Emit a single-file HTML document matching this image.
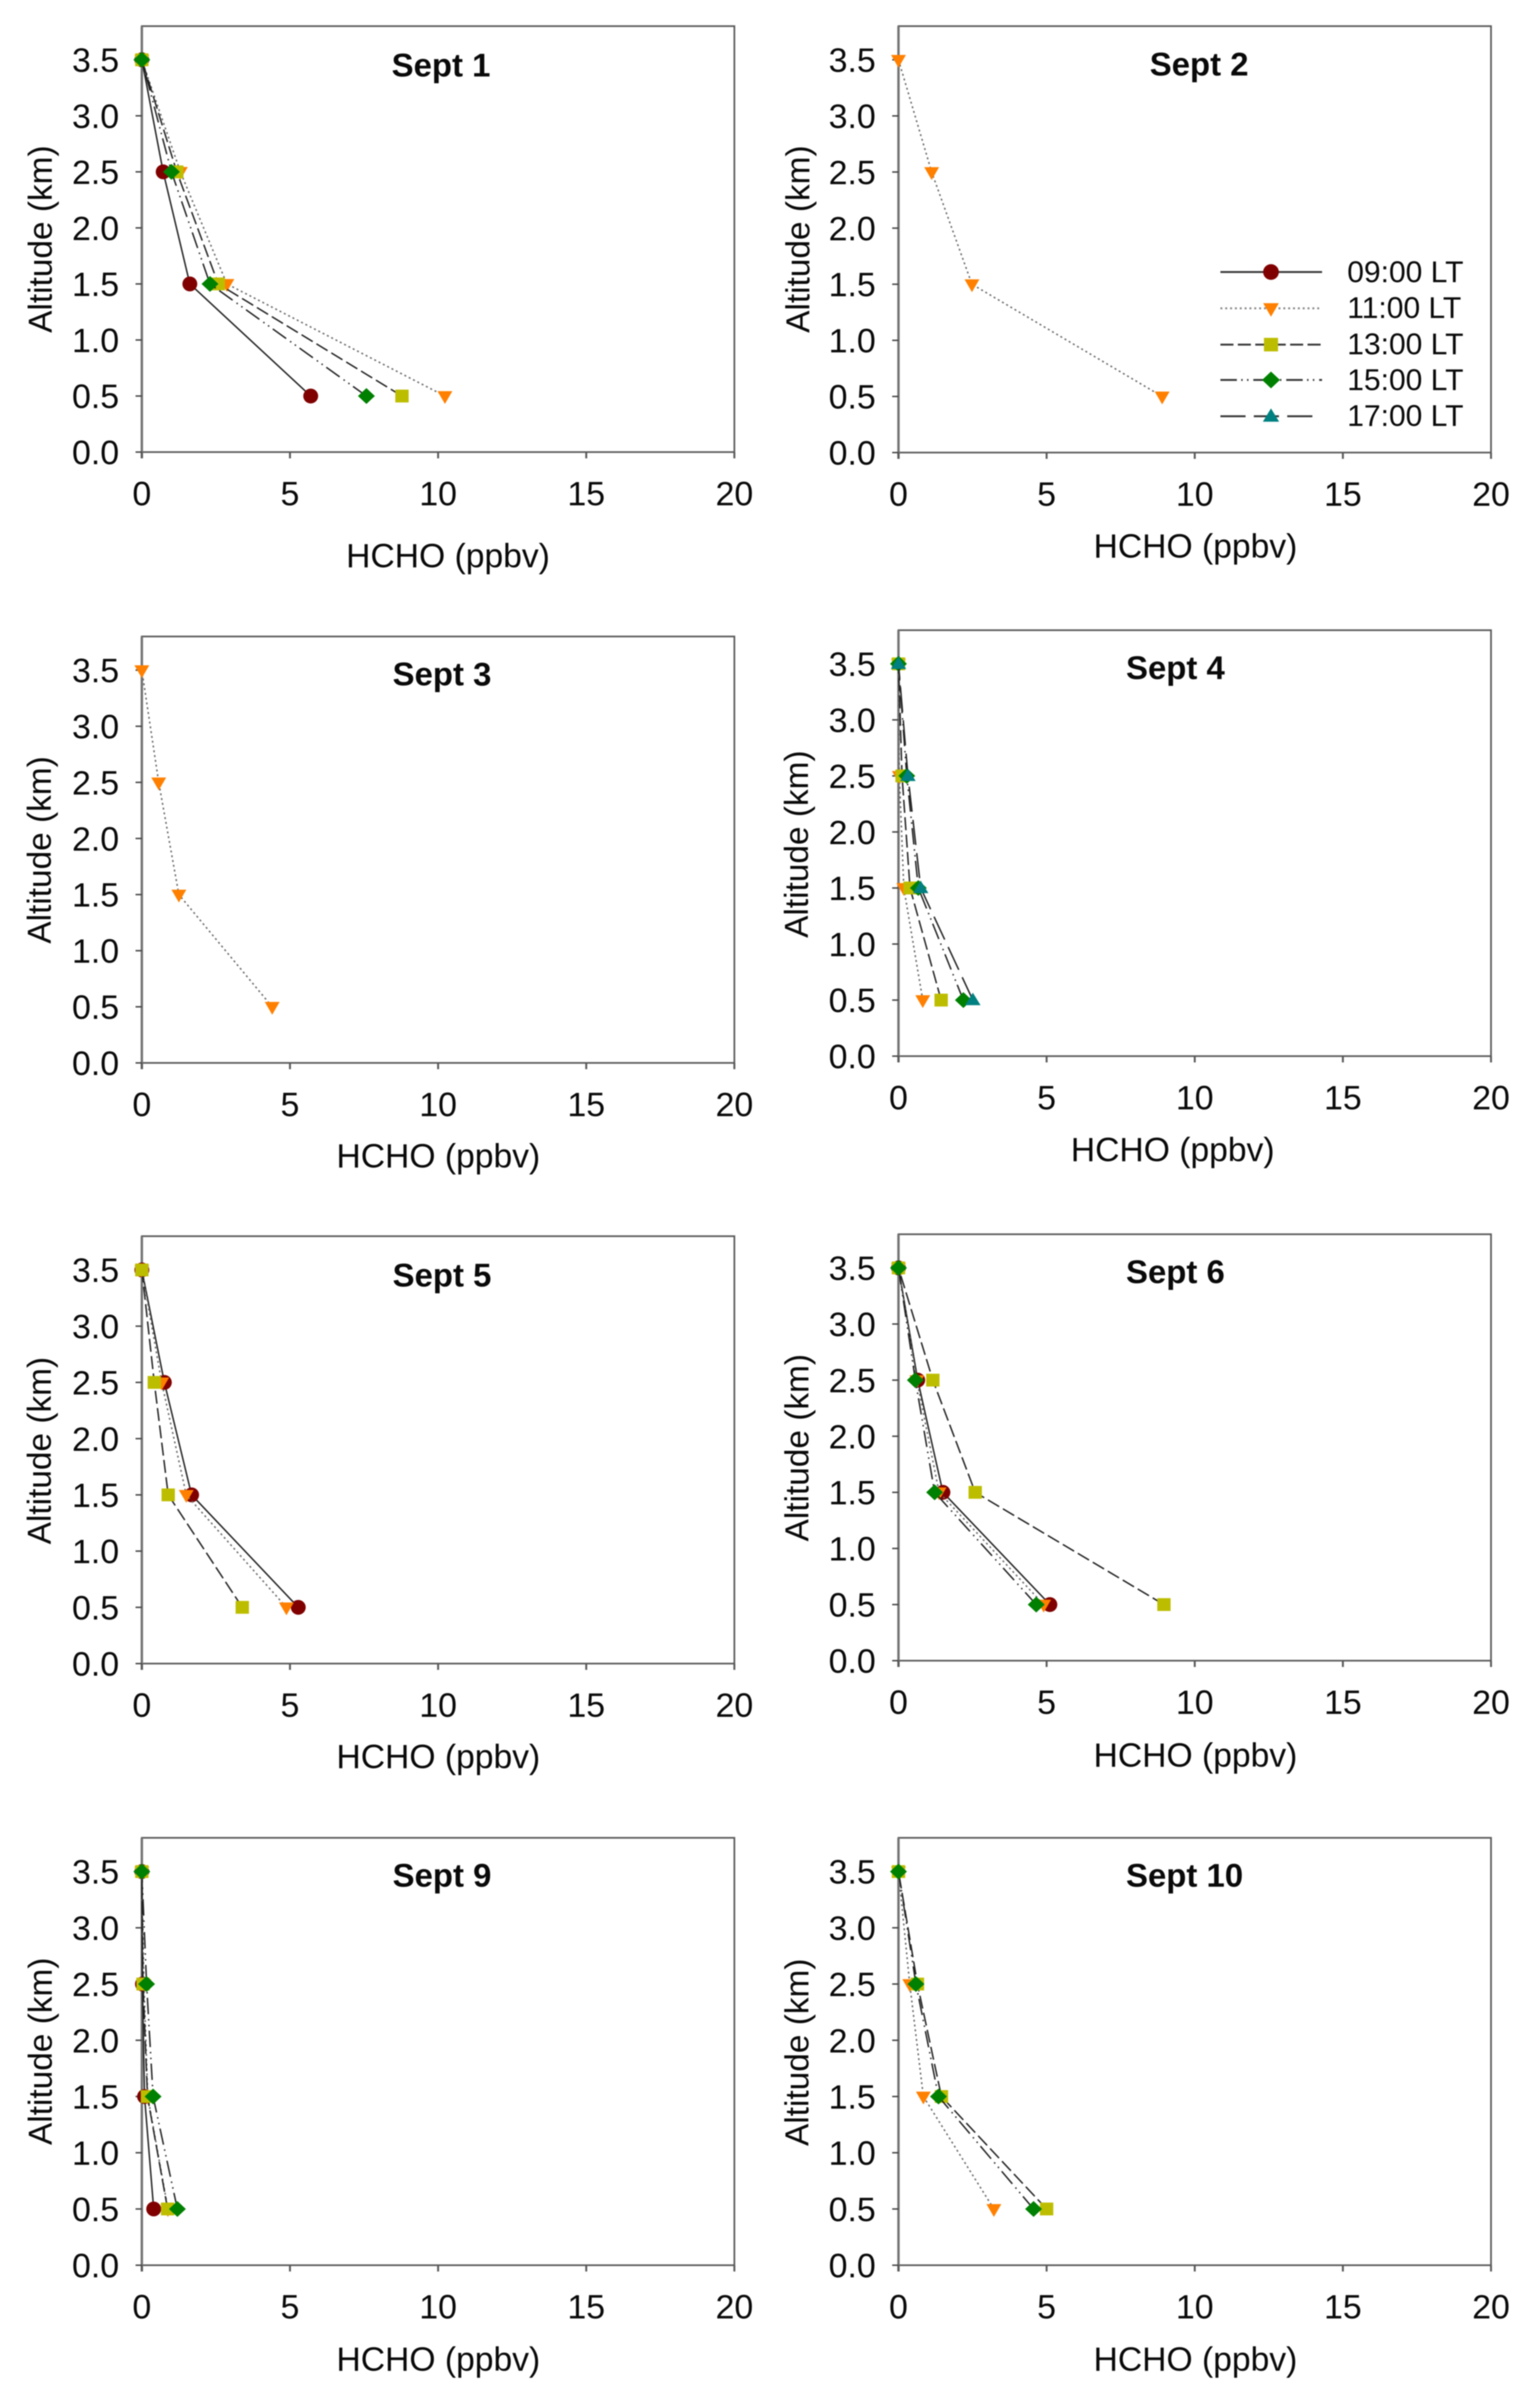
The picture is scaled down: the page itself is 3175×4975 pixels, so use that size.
<!DOCTYPE html>
<html lang="en">
<head>
<meta charset="utf-8">
<title>HCHO vertical profiles, September</title>
<style>
html,body{margin:0;padding:0;background:#fff;}
#figure{display:block;width:3175px;height:4975px;filter:blur(1px);}
text{font-family:"Liberation Sans",Arial,sans-serif;fill:#0a0a0a;}
</style>
</head>
<body>
<svg id="figure" xmlns="http://www.w3.org/2000/svg" width="3175" height="4975" viewBox="0 0 3175 4975"></svg>
<script>
// ---- shared axis data ----
const altitudes = [0.5, 1.5, 2.5, 3.5];
const xTicks = [0, 5, 10, 15, 20];
const yTicks = [0, 0.5, 1, 1.5, 2, 2.5, 3, 3.5];
const xTickLabels = ['0', '5', '10', '15', '20'];
const yTickLabels = ['0.0', '0.5', '1.0', '1.5', '2.0', '2.5', '3.0', '3.5'];
const xMax = 20;
const yMax = 3.8;
const seriesNames = ['09:00 LT', '11:00 LT', '13:00 LT', '15:00 LT', '17:00 LT'];
const dayTitles = ['Sept 1', 'Sept 2', 'Sept 3', 'Sept 4', 'Sept 5', 'Sept 6', 'Sept 9', 'Sept 10'];
const xAxisTitle = 'HCHO (ppbv)';
const yAxisTitle = 'Altitude (km)';

// ---- HCHO values (ppbv) at each altitude, one array per day and hour ----
const sept1h09 = [5.7, 1.62, 0.72, 0];
const sept1h11 = [10.23, 2.87, 1.3, 0];
const sept1h13 = [8.78, 2.58, 1.18, 0];
const sept1h15 = [7.58, 2.3, 1.0, 0];
const sept2h11 = [8.9, 2.48, 1.12, 0];
const sept3h11 = [4.4, 1.25, 0.57, 0];
const sept4h11 = [0.82, 0.18, 0.03, 0];
const sept4h13 = [1.44, 0.39, 0.12, 0];
const sept4h15 = [2.19, 0.67, 0.28, 0];
const sept4h17 = [2.51, 0.75, 0.32, 0];
const sept5h09 = [5.28, 1.68, 0.76, 0];
const sept5h11 = [4.88, 1.5, 0.67, 0];
const sept5h13 = [3.39, 0.89, 0.42, 0];
const sept6h09 = [5.11, 1.5, 0.65, 0];
const sept6h11 = [4.9, 1.37, 0.62, 0];
const sept6h13 = [8.96, 2.59, 1.16, 0];
const sept6h15 = [4.65, 1.22, 0.57, 0];
const sept9h09 = [0.4, 0.09, 0.02, 0];
const sept9h11 = [0.88, 0.2, 0.07, 0];
const sept9h13 = [0.87, 0.19, 0.04, 0];
const sept9h15 = [1.2, 0.38, 0.16, 0];
const sept10h11 = [3.22, 0.84, 0.38, 0];
const sept10h13 = [5.0, 1.45, 0.64, 0];
const sept10h15 = [4.56, 1.35, 0.59, 0];

// each day lists its series in the order 09, 11, 13, 15, 17 h
const dayValues = [
  [sept1h09, sept1h11, sept1h13, sept1h15, null],
  [null, sept2h11, null, null, null],
  [null, sept3h11, null, null, null],
  [null, sept4h11, sept4h13, sept4h15, sept4h17],
  [sept5h09, sept5h11, sept5h13, null, null],
  [sept6h09, sept6h11, sept6h13, sept6h15, null],
  [sept9h09, sept9h11, sept9h13, sept9h15, null],
  [null, sept10h11, sept10h13, sept10h15, null]
];

// ---- layout (pixels) ----
const frames = [
  {l:293, r:1517, t:54, b:934, titleX:809, titleY:158, xtX:715, xtY:1172, ytX:107, ytY:494},
  {l:1856, r:3080, t:54, b:935, titleX:2375, titleY:156, xtX:2259, xtY:1152, ytX:1672, ytY:494},
  {l:293, r:1517, t:1315, b:2196, titleX:811, titleY:1416, xtX:695, xtY:2412, ytX:105, ytY:1756},
  {l:1856, r:3080, t:1302, b:2182, titleX:2326, titleY:1403, xtX:2212, xtY:2399, ytX:1669, ytY:1744},
  {l:293, r:1517, t:2554, b:3437, titleX:811, titleY:2658, xtX:695, xtY:3653, ytX:105, ytY:2997},
  {l:1856, r:3080, t:2550, b:3431, titleX:2326, titleY:2651, xtX:2259, xtY:3650, ytX:1670, ytY:2991},
  {l:293, r:1517, t:3797, b:4680, titleX:811, titleY:3898, xtX:695, xtY:4898, ytX:107, ytY:4238},
  {l:1856, r:3080, t:3797, b:4680, titleX:2326, titleY:3898, xtX:2259, xtY:4898, ytX:1670, ytY:4240}
];
const AXIS = '#5a5a5a';
const dashStyles = ['', '4 6', '27 9', '34 9 3 9 3 10', '52 17'];
const lineColors = ['#222', '#666', '#222', '#222', '#222'];
const markerColors = ['#800000', '#ff8000', '#bdbd00', '#008000', '#008080'];
const markerKinds = ['circle', 'tri-down', 'square', 'diamond', 'tri-up'];

const NS = 'http://www.w3.org/2000/svg';
const svg = document.getElementById('figure');

function mk(tag, parent, props) {
  const el = document.createElementNS(NS, tag);
  for (const k in props) el.setAttribute(k, props[k]);
  parent.appendChild(el);
  return el;
}
function drawMarker(parent, kind, color, cx, cy, k, label) {
  let el;
  if (kind === 'circle') {
    el = mk('circle', parent, {cx: cx, cy: cy, r: 14.5 * k, fill: color});
  } else if (kind === 'square') {
    el = mk('rect', parent, {x: cx - 13 * k, y: cy - 12.5 * k, width: 26 * k, height: 25 * k, fill: color});
  } else if (kind === 'diamond') {
    el = mk('polygon', parent, {points: [cx-16.5*k,cy, cx,cy-15.5*k, cx+16.5*k,cy, cx,cy+15.5*k].join(','), fill: color});
  } else if (kind === 'tri-down') {
    el = mk('polygon', parent, {points: [cx-14.5*k,cy-9.5*k, cx+14.5*k,cy-9.5*k, cx,cy+15.5*k].join(','), fill: color});
  } else {
    el = mk('polygon', parent, {points: [cx-15*k,cy+10*k, cx+15*k,cy+10*k, cx,cy-14.5*k].join(','), fill: color});
  }
  
  
}

dayTitles.forEach(function (title, d) {
  const f = frames[d];
  const sx = function (v) { return f.l + (v / xMax) * (f.r - f.l); };
  const sy = function (v) { return f.b - (v / yMax) * (f.b - f.t); };
  const slug = title.toLowerCase().replace(' ', '-');

  const g = mk('g', svg, {});
  
  

  const frame = mk('rect', g, {x: f.l, y: f.t, width: f.r - f.l, height: f.b - f.t, fill: 'none', stroke: AXIS, 'stroke-width': 3.5});
  
  

  const leftAxis = mk('line', g, {x1: f.l, x2: f.l, y1: f.t, y2: f.b + 13, stroke: '#747474', 'stroke-width': 5});
  
  

  xTicks.forEach(function (v, i) {
    const tick = mk('line', g, {x1: sx(v), x2: sx(v), y1: f.b, y2: f.b + 13, stroke: AXIS, 'stroke-width': 4});
    
    
    const lab = mk('text', g, {x: sx(v), y: f.b + 110, 'font-size': 70, 'text-anchor': 'middle'});
    lab.textContent = xTickLabels[i];
    
    
  });
  yTicks.forEach(function (v, i) {
    const tick = mk('line', g, {x1: f.l - 13, x2: f.l, y1: sy(v), y2: sy(v), stroke: '#444', 'stroke-width': 3});
    
    
    const lab = mk('text', g, {x: f.l - 47, y: sy(v) + 25, 'font-size': 70, 'text-anchor': 'end'});
    lab.textContent = yTickLabels[i];
    
    
  });

  const titleEl = mk('text', g, {x: f.titleX, y: f.titleY, 'font-size': 68, 'font-weight': 'bold'});
  titleEl.textContent = title;
  
  

  const xt = mk('text', g, {x: f.xtX, y: f.xtY, 'font-size': 69.5});
  xt.textContent = xAxisTitle;
  
  

  const yt = mk('text', g, {x: 0, y: 0, 'font-size': 69, 'text-anchor': 'middle', transform: 'translate(' + f.ytX + ' ' + f.ytY + ') rotate(-90)'});
  yt.textContent = yAxisTitle;
  
  

  dayValues[d].forEach(function (vals, s) {
    if (!vals) return;
    const sg = mk('g', g, {});
    
    
    const pts = vals.map(function (v, i) { return sx(v) + ',' + sy(altitudes[i]); }).join(' ');
    const props = {points: pts, fill: 'none', stroke: lineColors[s], 'stroke-width': 3};
    if (dashStyles[s]) props['stroke-dasharray'] = dashStyles[s];
    const line = mk('polyline', sg, props);
    
    
    vals.forEach(function (v, i) {
      drawMarker(sg, markerKinds[s], markerColors[s], sx(v), sy(altitudes[i]), 1.06, 'data-point');
    });
  });
});

// ---- legend, inside the Sept 2 panel ----
const legendRowY = [562, 637, 712, 785, 860];
const legendTextY = [583, 657, 732, 806, 880];
const legend = mk('g', svg, {});


seriesNames.forEach(function (name, s) {
  const y = legendRowY[s];
  const entry = mk('g', legend, {});
  
  
  const props = {x1: 2521, x2: s === 4 ? 2712 : 2731, y1: y, y2: y, stroke: s === 1 ? '#888' : '#3a3a3a', 'stroke-width': 4};
  if (dashStyles[s]) props['stroke-dasharray'] = dashStyles[s];
  const ln = mk('line', entry, props);
  
  
  drawMarker(entry, markerKinds[s], markerColors[s], 2625.5, y, 1.12, 'legend-marker');
  const t = mk('text', entry, {x: 2783, y: legendTextY[s], 'font-size': 62});
  t.textContent = name;
  
  
});
</script>
</body>
</html>
